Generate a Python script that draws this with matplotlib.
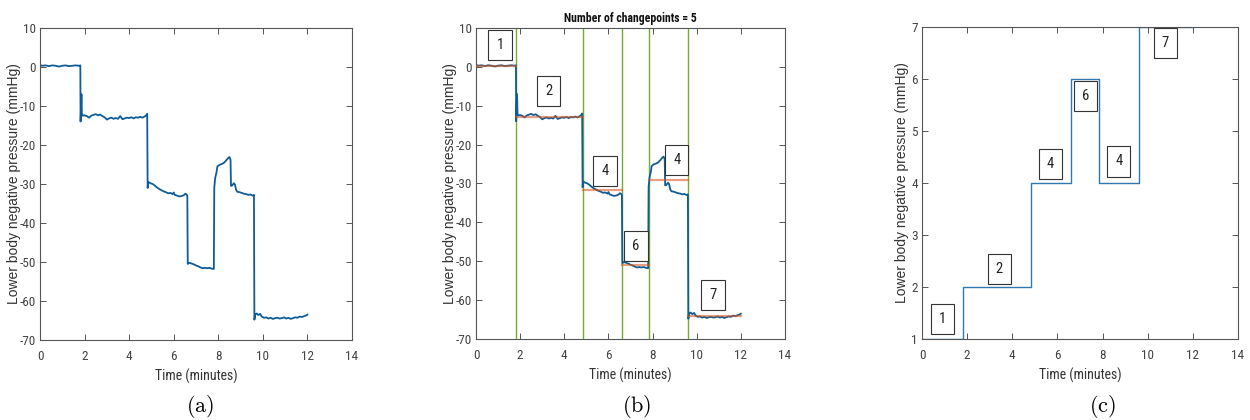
import matplotlib

matplotlib.use("Agg")
import matplotlib.pyplot as plt  # noqa: E402

NARROW = ["Liberation Sans Narrow", "Arial Narrow", "Roboto Condensed", "Archivo Narrow",
          "Liberation Sans", "DejaVu Sans"]
plt.rcParams["font.family"] = NARROW
plt.rcParams["mathtext.fontset"] = "cm"
plt.rcParams["axes.unicode_minus"] = False

# LBNP trace (minutes, mmHg)
t_trace = [
    0.00, 0.10, 0.25, 0.40, 0.55, 0.70, 0.85, 1.00, 1.15, 1.30, 1.45, 1.60, 1.75, 1.81,
    1.82, 1.84, 1.86, 1.88, 1.92, 2.00, 2.10, 2.20, 2.30, 2.40, 2.50, 2.60, 2.70, 2.80,
    2.90, 3.00, 3.10, 3.20, 3.30, 3.40, 3.50, 3.60, 3.70, 3.80, 3.90, 4.00, 4.10, 4.20,
    4.30, 4.40, 4.50, 4.60, 4.70, 4.78, 4.81,
    4.83, 4.86, 4.95, 5.05, 5.15, 5.25, 5.35, 5.45, 5.55, 5.65, 5.75, 5.85, 5.95, 6.00,
    6.05, 6.15, 6.25, 6.35, 6.45, 6.52, 6.58, 6.61,
    6.63, 6.70, 6.80, 6.90, 7.00, 7.10, 7.20, 7.30, 7.40, 7.50, 7.60, 7.70, 7.80,
    7.82, 7.86, 7.92, 7.96, 8.05, 8.15, 8.25, 8.35, 8.45, 8.50, 8.55, 8.57, 8.62, 8.70,
    8.75, 8.80, 8.85, 8.95, 9.05, 9.15, 9.25, 9.35, 9.45, 9.55, 9.60,
    9.62, 9.66, 9.72, 9.80, 9.88, 9.95, 10.05, 10.15, 10.25, 10.35, 10.45, 10.55, 10.65,
    10.75, 10.85, 10.95, 11.05, 11.15, 11.25, 11.35, 11.45, 11.55, 11.65, 11.75, 11.85,
    11.95, 12.00,
]
p_trace = [
    0.5, 0.3, 0.4, 0.2, 0.4, 0.3, 0.1, 0.3, 0.4, 0.2, 0.3, 0.4, 0.3, 0.4,
    -14.0, -11.0, -7.0, -12.0, -12.5, -12.4, -12.6, -13.0, -12.5, -12.3, -12.1, -12.4, -12.2, -12.6,
    -12.9, -13.5, -13.2, -13.0, -13.3, -13.1, -13.3, -12.6, -13.4, -13.2, -13.0, -13.1, -12.9, -13.2,
    -12.9, -13.0, -12.8, -13.0, -12.7, -12.3, -12.0,
    -31.0, -29.5, -29.8, -30.0, -30.4, -30.9, -31.3, -31.6, -31.9, -32.1, -32.4, -32.3, -32.6, -32.2,
    -32.8, -33.0, -33.2, -33.1, -32.9, -32.5, -32.7, -33.0,
    -50.5, -50.2, -50.4, -50.6, -50.9, -51.1, -51.4, -51.6, -51.5, -51.6, -51.5, -51.7, -51.8,
    -31.0, -28.5, -27.0, -25.5, -25.1, -24.9, -24.6, -24.0, -23.3, -23.1, -23.8, -30.5, -30.4, -29.8,
    -30.2, -31.5, -32.0, -32.1, -32.3, -32.5, -32.6, -32.8, -32.7, -33.0, -32.8,
    -64.8, -63.5, -63.2, -63.6, -63.3, -64.0, -64.3, -64.2, -64.5, -64.3, -64.6, -64.4, -64.3,
    -64.5, -64.4, -64.2, -64.5, -64.3, -64.6, -64.4, -64.2, -64.3, -64.0, -64.1, -63.9,
    -63.7, -63.5,
]

# detected changepoints and per-segment summaries
changepoints = [1.82, 4.83, 6.62, 7.82, 9.62]
t_end = 12.0
seg_means = [0.3, -12.8, -31.8, -50.9, -29.0, -64.0]
seg_levels = [1, 2, 4, 6, 4, 7]

# label box anchors (minutes, y) for panels b and c
box_b = [(1.09, 5.6), (3.30, -6.2), (5.85, -26.7), (7.24, -46.0), (9.10, -24.0), (10.74, -58.6)]
box_c = [(0.90, 1.38), (3.42, 2.34), (5.69, 4.36), (7.24, 5.67), (8.72, 4.41), (10.78, 6.69)]

TRACE_BLUE = "#0F5C98"
STEP_BLUE = "#2F78B4"
GREEN = "#77AC30"
ORANGE = "#D95319"
AX_COLOR = "#555555"
YLABEL = "Lower body negative pressure (mmHg)"


def style_axes(ax, ylab_x):
    for s in ax.spines.values():
        s.set_color(AX_COLOR)
        s.set_linewidth(0.8)
    ax.tick_params(direction="in", length=4, width=0.7, colors=AX_COLOR,
                   labelsize=9.5, top=True, right=True, labelcolor="#444444")
    ax.tick_params(axis="x", pad=7)
    ax.tick_params(axis="y", pad=3)
    ax.set_xlim(0, 14)
    ax.set_xticks(range(0, 15, 2))
    ax.set_xlabel("Time (minutes)", fontsize=10, color="#333333")
    ax.set_ylabel(YLABEL, fontsize=10, color="#333333",
                  family=["Liberation Sans", "DejaVu Sans"])
    ax.xaxis.set_label_coords(0.5, -0.093)
    ax.yaxis.set_label_coords(ylab_x, 0.5)


def add_box(ax, x, y, txt):
    ax.text(x, y, txt, ha="center", va="center", fontsize=10.5, color="#222222",
            bbox=dict(boxstyle="square,pad=0.55", fc="white", ec="#333333", lw=0.8))


fig = plt.figure(figsize=(12.5, 4.2), dpi=100)
ax_a = fig.add_axes([0.032, 0.1905, 0.2496, 0.743])
ax_b = fig.add_axes([0.3808, 0.1929, 0.2472, 0.7405])
ax_c = fig.add_axes([0.7376, 0.1929, 0.2528, 0.7436])

# (a) raw trace
ax_a.plot(t_trace, p_trace, color=TRACE_BLUE, lw=1.3)
ax_a.set_ylim(-70, 10)
ax_a.set_yticks(range(-70, 11, 10))
style_axes(ax_a, -0.061)

# (b) trace with changepoints and segment means
edges = [0.0] + changepoints + [t_end]
ax_b.plot(t_trace, p_trace, color=TRACE_BLUE, lw=1.3, zorder=2)
for cp in changepoints:
    ax_b.axvline(cp, color=GREEN, lw=1.0, zorder=1)
for i, m in enumerate(seg_means):
    ax_b.plot([edges[i], edges[i + 1]], [m, m], color=ORANGE, lw=1.6, alpha=0.55, zorder=3)
for (x, y), lvl in zip(box_b, seg_levels):
    add_box(ax_b, x, y, str(lvl))
ax_b.set_ylim(-70, 10)
ax_b.set_yticks(range(-70, 11, 10))
ax_b.set_title("Number of changepoints = %d" % len(changepoints), fontsize=8.5,
               fontweight="bold", color="#111111", pad=4)
style_axes(ax_b, -0.061)

# (c) segment levels as a step function
ax_c.step(edges, seg_levels + [seg_levels[-1]], where="post", color=STEP_BLUE, lw=1.0)
for (x, y), lvl in zip(box_c, seg_levels):
    add_box(ax_c, x, y, str(lvl))
ax_c.set_ylim(1, 7)
ax_c.set_yticks(range(1, 8))
style_axes(ax_c, -0.042)

for x, lab in [(200, "a"), (637, "b"), (1102, "c")]:
    fig.text(x / 1250, 1 - 406 / 420, r"$(\mathrm{%s})$" % lab, ha="center", va="center",
             fontsize=16)

fig.savefig("out.png", dpi=100)
